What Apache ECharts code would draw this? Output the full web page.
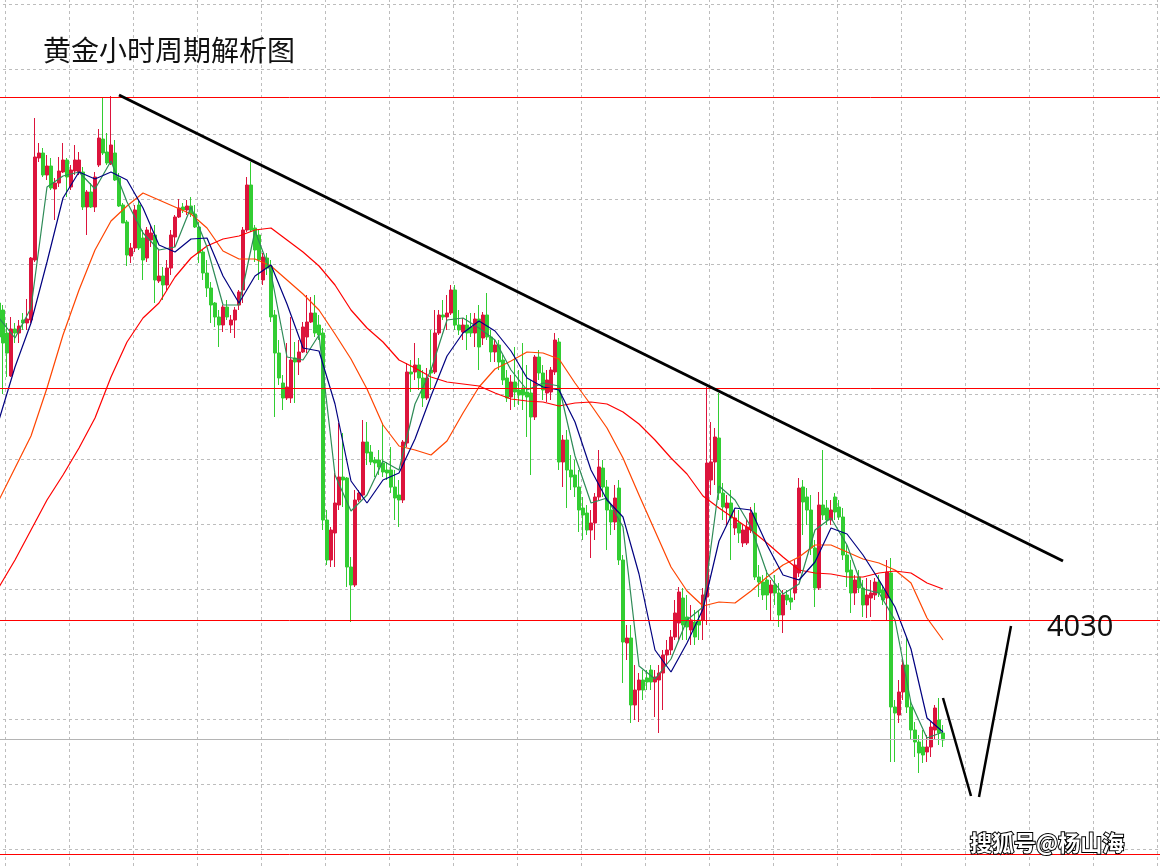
<!DOCTYPE html>
<html>
<head>
<meta charset="utf-8">
<title>黄金小时周期解析图</title>
<script src="https://cdn.jsdelivr.net/npm/echarts@6/dist/echarts.min.js"></script>
<style>
html, body { margin: 0; padding: 0; background: #fff; }
#main { width: 1160px; height: 868px; }
</style>
</head>
<body>
<div id="main"></div>
<script>
// hourly gold candles: [open, close, low, high]
var candles = [
    [4093.4,4086.6,4082.6,4094.0],[4092.0,4085.4,4075.2,4093.0],[4087.4,4083.4,4078.6,4089.4],[4078.8,4088.2,4078.6,4090.6],
    [4088.2,4087.4,4085.4,4089.4],[4087.4,4088.8,4085.4,4090.0],[4090.0,4089.4,4088.0,4091.4],[4089.4,4090.2,4088.0,4094.2],
    [4090.0,4102.4,4089.4,4102.6],[4102.0,4122.6,4101.6,4130.4],[4122.4,4123.4,4121.6,4125.4],[4123.4,4119.0,4118.6,4124.4],
    [4119.0,4120.8,4118.0,4123.0],[4120.8,4116.4,4116.0,4122.4],[4116.2,4117.4,4110.0,4118.4],[4117.4,4119.8,4116.6,4122.6],
    [4119.6,4122.0,4119.4,4125.4],[4122.0,4118.6,4114.6,4122.4],[4116.6,4120.0,4116.0,4121.0],[4119.8,4122.0,4119.0,4125.0],
    [4119.6,4122.0,4119.0,4123.6],[4119.6,4112.6,4112.0,4120.6],[4112.6,4115.6,4107.0,4116.0],[4115.6,4112.6,4112.4,4117.4],
    [4112.6,4118.6,4111.6,4119.6],[4121.0,4126.4,4120.6,4128.2],[4126.2,4123.4,4123.0,4134.4],[4123.6,4121.4,4121.0,4127.4],
    [4121.2,4125.0,4121.0,4134.8],[4123.4,4118.0,4117.8,4126.0],[4118.4,4112.8,4112.6,4119.4],[4113.0,4109.4,4109.4,4113.4],
    [4109.6,4103.0,4100.8,4110.0],[4102.8,4104.4,4101.4,4105.4],[4104.4,4112.0,4103.6,4113.0],[4113.0,4104.4,4104.0,4114.0],
    [4106.4,4102.0,4098.0,4108.0],[4102.4,4108.0,4101.6,4108.6],[4106.0,4107.4,4104.6,4109.0],[4107.0,4098.0,4093.4,4109.0],
    [4097.8,4098.8,4097.4,4104.0],[4098.8,4097.0,4094.0,4100.6],[4097.0,4100.4,4096.0,4102.0],[4100.4,4107.0,4099.0,4108.0],
    [4106.6,4110.6,4104.6,4111.0],[4110.6,4112.4,4110.4,4114.2],[4112.6,4112.0,4111.4,4113.4],[4112.0,4112.8,4111.0,4114.0],
    [4112.8,4111.2,4110.6,4114.6],[4111.2,4108.6,4108.4,4113.0],[4108.6,4103.4,4101.4,4109.6],[4103.6,4099.4,4098.0,4104.0],
    [4099.4,4096.4,4094.6,4102.0],[4096.4,4093.0,4089.4,4097.6],[4093.4,4090.6,4088.6,4093.6],[4090.6,4089.0,4084.6,4092.0],
    [4089.0,4092.6,4087.6,4093.0],[4092.6,4090.6,4090.0,4094.0],[4089.0,4090.0,4087.4,4091.0],[4090.0,4092.0,4086.4,4092.6],
    [4093.0,4095.6,4092.0,4096.0],[4096.0,4108.0,4093.4,4108.6],[4108.0,4117.0,4107.6,4118.6],[4117.0,4108.0,4107.6,4121.6],
    [4108.4,4104.0,4101.6,4109.0],[4107.0,4102.0,4098.0,4108.0],[4098.0,4102.6,4097.0,4103.4],[4102.4,4100.4,4099.0,4103.4],
    [4100.8,4090.6,4089.6,4102.0],[4091.0,4083.4,4070.6,4092.0],[4083.4,4078.4,4077.0,4086.0],[4077.4,4074.4,4072.0,4079.0],
    [4074.4,4076.6,4074.0,4085.4],[4074.4,4082.0,4073.4,4090.6],[4082.4,4081.6,4073.4,4085.6],[4081.6,4083.6,4079.0,4086.0],
    [4083.6,4088.6,4083.4,4089.6],[4086.6,4089.6,4083.4,4095.0],[4089.6,4091.4,4089.4,4094.6],[4091.4,4087.4,4086.6,4095.0],
    [4089.0,4087.0,4086.0,4091.0],[4087.4,4050.0,4048.0,4088.4],[4050.0,4042.0,4041.0,4052.0],[4042.0,4048.0,4040.6,4048.6],
    [4047.4,4053.4,4040.6,4059.4],[4053.0,4058.6,4052.0,4069.4],[4058.6,4058.0,4052.6,4067.4],[4058.4,4040.6,4036.6,4058.6],
    [4040.6,4037.0,4029.6,4042.6],[4037.0,4054.0,4036.6,4056.0],[4054.0,4055.4,4053.6,4056.0],[4055.0,4065.6,4054.6,4070.0],
    [4065.6,4063.4,4061.0,4069.6],[4063.6,4061.6,4061.0,4065.0],[4062.0,4061.4,4058.6,4062.6],[4062.0,4060.6,4059.0,4064.0],
    [4061.4,4059.6,4058.6,4069.4],[4060.0,4059.4,4058.0,4061.6],[4060.0,4056.6,4055.4,4064.6],[4056.6,4054.4,4050.0,4060.0],
    [4055.0,4054.0,4048.6,4058.0],[4054.0,4065.6,4053.4,4066.0],[4065.4,4079.6,4064.6,4081.4],[4079.6,4079.2,4075.6,4082.0],
    [4079.6,4081.0,4078.0,4085.4],[4081.0,4078.4,4076.0,4082.4],[4078.4,4074.4,4072.6,4080.0],[4074.4,4078.4,4074.0,4080.4],
    [4080.0,4079.4,4076.0,4088.0],[4079.6,4087.4,4079.2,4092.0],[4087.4,4091.0,4087.0,4092.0],[4091.0,4090.6,4090.0,4094.0],
    [4090.6,4091.4,4088.0,4095.0],[4091.4,4096.0,4091.0,4097.0],[4096.0,4089.0,4088.0,4097.0],[4089.0,4088.0,4087.0,4092.0],
    [4087.6,4089.0,4086.0,4090.4],[4089.0,4087.4,4084.0,4091.0],[4088.6,4087.4,4086.6,4091.4],[4087.4,4090.2,4084.6,4091.4],
    [4090.2,4084.6,4080.0,4093.0],[4086.4,4091.0,4085.0,4091.6],[4091.0,4086.6,4086.0,4095.4],[4086.6,4083.6,4081.6,4088.0],
    [4083.6,4085.0,4081.6,4086.0],[4085.0,4081.6,4080.0,4086.0],[4082.0,4078.0,4077.0,4083.0],[4078.4,4074.4,4073.6,4080.0],
    [4074.6,4077.6,4072.0,4079.0],[4077.6,4075.6,4072.6,4084.6],[4076.0,4075.0,4073.0,4080.0],[4076.4,4075.0,4072.0,4085.4],
    [4075.6,4074.6,4066.6,4081.0],[4075.4,4070.6,4059.0,4078.0],[4070.6,4082.6,4070.0,4083.0],[4082.6,4079.4,4078.0,4084.0],
    [4079.4,4076.0,4074.0,4081.0],[4075.4,4078.0,4073.6,4080.0],[4075.6,4080.0,4074.0,4080.6],[4079.6,4086.0,4079.0,4087.4],
    [4085.6,4061.6,4060.0,4086.4],[4061.6,4066.0,4056.6,4067.0],[4066.0,4060.0,4052.4,4068.0],[4060.0,4058.6,4056.0,4063.0],
    [4059.0,4056.6,4054.6,4062.0],[4056.6,4052.0,4047.6,4060.0],[4052.4,4051.0,4046.0,4054.6],[4051.4,4048.0,4047.0,4053.0],
    [4048.0,4049.4,4042.4,4052.0],[4049.4,4054.6,4046.0,4055.4],[4054.6,4060.6,4054.0,4064.0],[4060.4,4056.6,4054.6,4062.0],
    [4056.6,4052.0,4044.0,4058.0],[4052.0,4049.6,4047.0,4053.0],[4049.6,4054.4,4048.0,4057.0],[4056.4,4042.0,4041.0,4058.0],
    [4042.0,4025.6,4017.4,4043.0],[4025.4,4026.4,4022.0,4029.0],[4026.4,4013.0,4009.4,4029.0],[4013.0,4016.0,4010.0,4021.0],
    [4016.0,4018.0,4009.6,4019.4],[4018.0,4016.0,4014.0,4020.0],[4018.4,4017.6,4016.0,4020.0],[4020.0,4017.6,4016.0,4021.0],
    [4017.6,4018.6,4010.6,4020.0],[4018.0,4019.4,4007.4,4021.0],[4019.4,4023.0,4012.0,4024.0],[4023.0,4024.0,4021.0,4026.0],
    [4024.0,4026.6,4023.0,4028.0],[4026.6,4031.4,4026.0,4034.0],[4029.4,4035.6,4026.0,4036.6],[4034.4,4029.0,4026.0,4036.4],
    [4030.6,4028.6,4026.0,4035.0],[4028.0,4030.0,4025.0,4033.0],[4029.6,4026.6,4025.0,4032.0],[4030.0,4029.0,4026.0,4032.0],
    [4030.0,4035.0,4026.0,4036.4],[4034.6,4061.4,4029.0,4076.6],[4058.0,4061.6,4055.0,4069.6],[4061.6,4066.6,4057.0,4068.4],
    [4066.4,4055.4,4054.0,4075.4],[4055.4,4052.6,4050.0,4057.4],[4052.4,4053.4,4049.0,4055.0],[4053.4,4050.4,4042.0,4056.0],
    [4048.4,4050.4,4047.0,4052.0],[4049.4,4047.4,4045.4,4052.0],[4045.4,4048.0,4044.6,4049.0],[4045.4,4048.6,4045.0,4050.0],
    [4048.0,4051.4,4047.4,4052.6],[4051.4,4038.6,4038.0,4053.4],[4038.6,4037.6,4034.6,4041.0],[4037.6,4035.0,4034.0,4039.0],
    [4038.0,4035.0,4032.0,4040.0],[4035.4,4037.0,4030.0,4038.0],[4037.0,4035.4,4033.0,4039.0],[4035.4,4031.0,4028.6,4037.4],
    [4031.0,4035.0,4027.4,4036.0],[4035.0,4034.0,4033.0,4036.0],[4034.4,4033.6,4032.0,4036.0],[4035.4,4041.0,4034.0,4042.0],
    [4039.4,4056.4,4038.6,4058.4],[4056.6,4053.6,4047.0,4058.0],[4054.6,4052.0,4049.0,4056.4],[4052.0,4044.4,4043.0,4055.0],
    [4044.4,4036.4,4032.6,4046.0],[4036.4,4053.0,4036.0,4055.6],[4053.0,4051.0,4050.0,4064.0],[4052.4,4050.0,4049.0,4054.0],
    [4050.0,4052.0,4049.0,4054.0],[4054.6,4051.6,4050.0,4055.4],[4052.6,4050.6,4050.0,4054.0],[4050.6,4043.0,4042.0,4052.4],
    [4043.0,4039.6,4036.6,4045.0],[4040.0,4035.4,4031.4,4042.0],[4035.4,4038.0,4033.0,4039.0],[4038.6,4036.4,4035.4,4040.0],
    [4036.4,4033.0,4030.6,4038.0],[4033.0,4035.0,4030.4,4038.4],[4034.4,4035.4,4030.6,4038.0],[4035.0,4037.6,4034.0,4038.4],
    [4037.6,4035.4,4034.6,4039.0],[4036.0,4034.0,4033.0,4037.0],[4034.4,4039.6,4030.0,4042.0],[4039.4,4012.6,4001.6,4042.4],
    [4012.6,4011.4,4001.6,4014.0],[4011.0,4015.6,4009.4,4018.0],[4015.6,4021.0,4014.0,4022.0],[4021.0,4012.6,4011.4,4026.6],
    [4012.6,4008.0,4006.0,4014.0],[4008.0,4005.6,4002.6,4009.6],[4005.6,4003.4,3999.4,4007.0],[4004.6,4003.0,4001.4,4008.0],
    [4003.6,4004.6,4001.6,4007.0],[4004.6,4008.6,4002.6,4009.6],[4008.0,4012.4,4006.0,4013.0],[4010.0,4007.4,4005.0,4014.4],
    [4007.4,4006.0,4004.6,4009.0]
];

// moving averages read every 4 bars
var maIndex = [0,4,8,12,16,20,24,28,32,36,40,44,48,52,56,60,64,68,72,76,80,84,88,92,96,100,104,108,112,116,
               120,124,128,132,136,140,144,148,152,156,160,164,168,172,176,180,184,188,192,196,200,204,208,212,216,220,224,228,232,236];
var maGreen = [4090.4,4086.4,4092.4,4116.6,4118.8,4119.6,4116.2,4121.8,4113.6,4107.4,4104.0,4104.6,4112.6,4104.6,4093.0,
               4093.0,4107.8,4099.4,4082.6,4082.0,4087.0,4059.0,4051.8,4055.0,4061.8,4060.0,4073.2,4080.0,4090.0,4090.4,
               4088.4,4086.0,4080.0,4076.0,4077.4,4076.8,4062.8,4053.4,4054.4,4048.6,4020.8,4018.2,4022.2,4030.0,4032.6,
               4056.8,4054.0,4048.6,4039.4,4035.2,4037.2,4048.0,4050.4,4045.0,4036.2,4035.4,4030.0,4013.4,4006.4,4007.6];
var maBlue = [4070.0,4080.6,4089.4,4101.6,4114.4,4119.6,4118.2,4119.6,4118.0,4112.4,4105.0,4103.6,4106.2,4106.4,4098.8,
              4093.4,4098.8,4101.0,4093.2,4084.4,4083.8,4073.2,4057.8,4053.4,4058.0,4059.4,4066.2,4074.8,4082.8,4087.4,
              4089.8,4087.8,4083.8,4078.4,4076.6,4076.0,4069.6,4060.0,4054.0,4050.6,4039.2,4024.0,4019.6,4025.4,4032.2,
              4045.8,4052.4,4052.0,4045.0,4039.0,4038.0,4041.6,4048.4,4047.2,4043.0,4038.0,4032.6,4024.2,4010.4,4007.6];
var maOrange = [4054.0,4060.4,4066.8,4076.4,4087.0,4096.0,4104.0,4109.8,4112.8,4115.4,4114.0,4112.6,4111.2,4108.4,4103.8,
                4102.2,4102.2,4100.8,4098.0,4095.2,4092.0,4087.2,4082.2,4076.2,4069.0,4064.8,4064.0,4063.0,4065.8,4071.4,
                4076.6,4080.2,4081.8,4083.6,4083.4,4082.2,4077.4,4073.0,4068.4,4062.4,4055.0,4047.8,4040.6,4035.8,4032.8,
                4033.6,4033.4,4035.8,4038.6,4041.0,4042.6,4045.0,4045.0,4043.6,4042.2,4041.4,4040.0,4037.4,4030.4,4026.0];
var maRed = [4036.6,4042.0,4048.0,4054.0,4059.0,4064.4,4070.4,4078.6,4085.6,4090.4,4093.4,4098.6,4102.4,4104.8,4106.2,
             4106.8,4108.0,4108.4,4106.0,4103.6,4100.8,4097.0,4092.0,4088.4,4085.6,4082.0,4080.4,4078.6,4077.6,4077.2,
             4076.8,4075.4,4074.2,4073.8,4073.6,4072.8,4073.4,4073.6,4073.2,4071.6,4069.2,4066.0,4062.4,4059.2,4054.8,
             4052.4,4050.2,4048.0,4045.4,4042.6,4040.0,4039.4,4039.2,4038.6,4038.6,4039.4,4039.8,4039.4,4037.4,4036.2];

// drawn levels and lines
var redLevels = [4134.5, 4076.3, 4030, 3983.1];
var grayLevel = 4006.1;
var trendLine = [[30, 4135.0], [266, 4041.8]];
var vLeg1 = [[236, 4014.4], [243, 3994.8]];
var vLeg2 = [[245, 3994.6], [253, 4028.8]];

var slotCount = 291;
var categories = [];
for (var i = 0; i < slotCount; i++) {
    categories.push(String(i));
}

function pairs(values) {
    return maIndex.map(function (k, i) { return [k, values[i]]; });
}

function maSeries(values, color) {
    return {
        type: 'line',
        data: pairs(values),
        showSymbol: false,
        symbol: 'none',
        silent: true,
        z: 4,
        lineStyle: { color: color, width: 1.2 },
        itemStyle: { color: color }
    };
}

var markData = [];
redLevels.forEach(function (v) {
    markData.push({ yAxis: v, lineStyle: { color: '#ff0000', width: 1, type: 'solid' } });
});
markData.push({ yAxis: grayLevel, lineStyle: { color: '#b4b4b4', width: 1, type: 'solid' } });
markData.push([
    { coord: trendLine[0], lineStyle: { color: '#000', width: 3, type: 'solid' } },
    { coord: trendLine[1] }
]);
markData.push([
    { coord: vLeg1[0], lineStyle: { color: '#000', width: 2.5, type: 'solid' } },
    { coord: vLeg1[1] }
]);
markData.push([
    { coord: vLeg2[0], lineStyle: { color: '#000', width: 2.5, type: 'solid' } },
    { coord: vLeg2[1] }
]);

var myChart = echarts.init(document.getElementById('main'));

var option = {
    backgroundColor: '#ffffff',
    animation: false,
    grid: {
        left: -3,
        width: 1164,
        top: -61,
        height: 975,
        outerBoundsMode: 'none',
        containLabel: false
    },
    xAxis: [{
        type: 'category',
        data: categories,
        boundaryGap: true,
        axisLine: { show: false },
        axisTick: { show: false },
        axisLabel: { show: false },
        splitLine: {
            show: true,
            interval: function (index) { return index % 16 === 2; },
            lineStyle: { color: '#bdbdbd', width: 1, type: [3, 3] }
        }
    }],
    yAxis: [{
        type: 'value',
        min: 3971.2,
        max: 4166.2,
        show: false,
        splitLine: { show: false }
    }, {
        // grid rows only
        type: 'value',
        min: 0,
        max: 15,
        interval: 1,
        axisLine: { show: false },
        axisTick: { show: false },
        axisLabel: { show: false },
        splitLine: {
            show: true,
            lineStyle: { color: '#bdbdbd', width: 1, type: [3, 3] }
        }
    }],
    series: [{
        type: 'candlestick',
        data: candles,
        barWidth: 3,
        silent: true,
        z: 3,
        itemStyle: {
            color: '#dc143c',
            color0: '#32cd32',
            borderColor: '#dc143c',
            borderColor0: '#32cd32',
            borderWidth: 1
        },
        markLine: {
            silent: true,
            symbol: ['none', 'none'],
            label: { show: false },
            animation: false,
            z: 5,
            data: markData
        }
    },
        maSeries(maOrange, '#ff4500'),
        maSeries(maRed, '#ff0000'),
        maSeries(maGreen, '#2e8b57'),
        maSeries(maBlue, '#000080')
    ],
    graphic: [{
        type: 'text',
        z: 10,
        style: {
            x: 43, y: 50,
            text: '黄金小时周期解析图',
            font: '28px "Noto Sans CJK SC"',
            fill: '#111',
            textVerticalAlign: 'middle'
        }
    }, {
        type: 'text',
        z: 10,
        style: {
            x: 1047, y: 628,
            text: '4030',
            font: '29px "Noto Sans"',
            fill: '#111',
            textVerticalAlign: 'middle'
        }
    }, {
        type: 'text',
        z: 10,
        style: {
            x: 970, y: 843,
            text: '搜狐号@杨山海',
            font: 'bold 22px "Noto Sans CJK SC"',
            fill: '#ffffff',
            stroke: '#000000',
            lineWidth: 2,
            textVerticalAlign: 'middle'
        }
    }]
};

myChart.setOption(option);
</script>
</body>
</html>
